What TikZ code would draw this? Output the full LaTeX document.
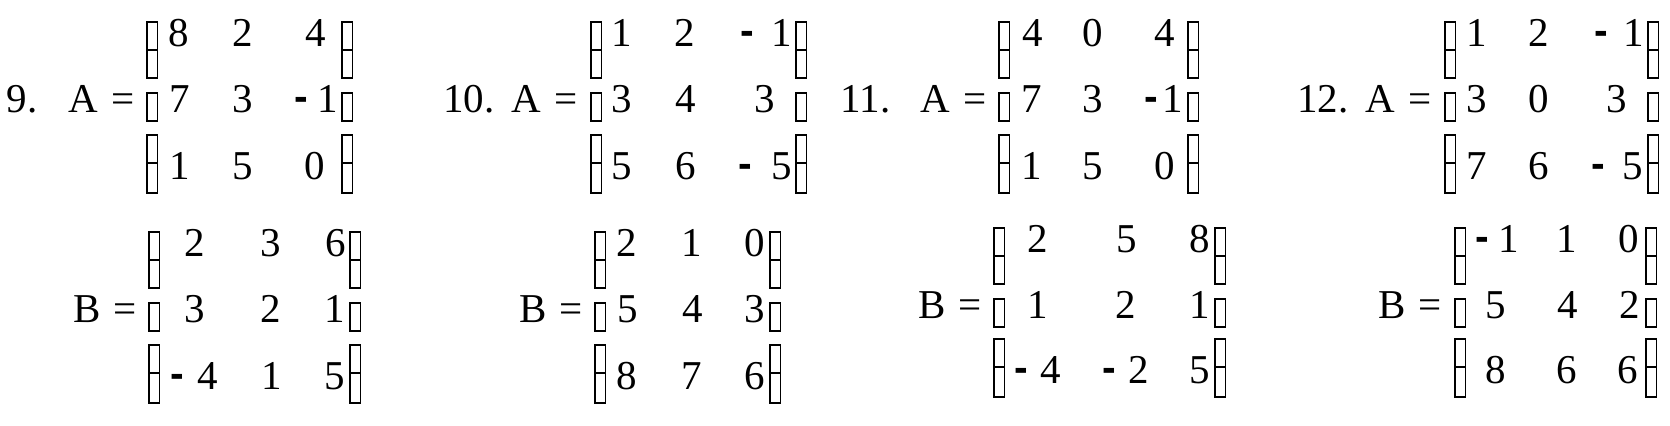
\documentclass[tikz,border=0pt]{standalone}
\usepackage{fontspec}
\setmainfont{Liberation Serif}
\setsansfont{Liberation Sans}
\newcommand{\mn}[1]{\llap{\raisebox{1.3pt}{\sffamily\bfseries -}\hspace{#1}}} % minus before an entry
\newcommand{\brk}[4]{ % bracket column: x, then the three row baselines
  \draw[gbox] (#1,#2-25) rectangle (#1+10.5,#2+3) rectangle (#1,#2+31);
  \draw[gbox] (#1,#3-20) rectangle (#1+10.5,#3+8);
  \draw[gbox] (#1,#4-45) rectangle (#1+10.5,#4-17) rectangle (#1,#4+13);
}
\tikzset{
    ent/.style={ % matrix entry, placed at its baseline
        anchor=base,
        inner sep=0pt,
        font=\fontsize{20.5pt}{24pt}\selectfont
        },
    numl/.style={ % exercise number
        ent,
        anchor=base east
        },
    eql/.style={ % "A =" and "B ="
        numl
        },
    gbox/.style={
        draw=black,
        line width=0.65pt
        }
}
\begin{document}
\begin{tikzpicture}[x=0.5pt,y=-0.5pt]
		\useasboundingbox (0,0) rectangle (1670,426);

		%%%%% exercise 9
		\node[numl] (n9) at (37.8,113) {9.};
		\node[eql] (a9) at (135.5,113) {A\hspace{7pt}=};
		\node[eql] (b9) at (137.5,323) {B\hspace{6.5pt}=};
		\brk{147}{47}{113}{180}
		\brk{342}{47}{113}{180}
		\brk{149}{257}{323}{390}
		\brk{350}{257}{323}{390}
		\foreach \x/\t [count=\c] in {179/8,243/2,316/4}
			\node[ent] (a9-1\c) at (\x,47) {\t};
		\foreach \x/\t [count=\c] in {179.5/7,243/3,327.5/{\mn{4.6pt}1}}
			\node[ent] (a9-2\c) at (\x,113) {\t};
		\foreach \x/\t [count=\c] in {180/1,243/5,315/0}
			\node[ent] (a9-3\c) at (\x,180) {\t};
		\foreach \x/\t [count=\c] in {194.5/2,271/3,335.5/6}
			\node[ent] (b9-1\c) at (\x,257) {\t};
		\foreach \x/\t [count=\c] in {194.5/3,271/2,335/1}
			\node[ent] (b9-2\c) at (\x,323) {\t};
		\foreach \x/\t [count=\c] in {207.5/{\mn{6.6pt}4},271.5/1,335/5}
			\node[ent] (b9-3\c) at (\x,390) {\t};

		%%%%% exercise 10
		\node[numl] (n10) at (494.8,113) {10.};
		\node[eql] (a10) at (578.5,113) {A\hspace{7pt}=};
		\node[eql] (b10) at (583.5,323) {B\hspace{6.5pt}=};
		\brk{591}{47}{113}{180}
		\brk{796}{47}{113}{180}
		\brk{595}{257}{323}{390}
		\brk{770}{257}{323}{390}
		\foreach \x/\t [count=\c] in {622/1,685/2,781.5/{\mn{8.6pt}1}}
			\node[ent] (a10-1\c) at (\x,47) {\t};
		\foreach \x/\t [count=\c] in {622/3,685.5/4,765/3}
			\node[ent] (a10-2\c) at (\x,113) {\t};
		\foreach \x/\t [count=\c] in {622/5,686/6,781.5/{\mn{9.7pt}5}}
			\node[ent] (a10-3\c) at (\x,180) {\t};
		\foreach \x/\t [count=\c] in {627/2,691.5/1,755/0}
			\node[ent] (b10-1\c) at (\x,257) {\t};
		\foreach \x/\t [count=\c] in {628/5,692.5/4,755/3}
			\node[ent] (b10-2\c) at (\x,323) {\t};
		\foreach \x/\t [count=\c] in {627/8,692/7,755/6}
			\node[ent] (b10-3\c) at (\x,390) {\t};

		%%%%% exercise 11
		\node[numl] (n11) at (890.8,113) {11.};
		\node[eql] (a11) at (987.5,113) {A\hspace{7pt}=};
		\node[eql] (b11) at (982.5,319) {B\hspace{6.5pt}=};
		\brk{999}{47}{113}{180}
		\brk{1188}{47}{113}{180}
		\brk{994}{253}{319}{384}
		\brk{1215}{253}{319}{384}
		\foreach \x/\t [count=\c] in {1032.5/4,1093/0,1164.5/4}
			\node[ent] (a11-1\c) at (\x,47) {\t};
		\foreach \x/\t [count=\c] in {1032/7,1093/3,1173/{\mn{2.3pt}1}}
			\node[ent] (a11-2\c) at (\x,113) {\t};
		\foreach \x/\t [count=\c] in {1031.5/1,1093/5,1165/0}
			\node[ent] (a11-3\c) at (\x,180) {\t};
		\foreach \x/\t [count=\c] in {1037.5/2,1126.5/5,1200/8}
			\node[ent] (b11-1\c) at (\x,253) {\t};
		\foreach \x/\t [count=\c] in {1038/1,1126/2,1200/1}
			\node[ent] (b11-2\c) at (\x,319) {\t};
		\foreach \x/\t [count=\c] in {1051/{\mn{6.3pt}4},1138.5/{\mn{6.1pt}2},1200/5}
			\node[ent] (b11-3\c) at (\x,384) {\t};

		%%%%% exercise 12
		\node[numl] (n12) at (1348.8,113) {12.};
		\node[eql] (a12) at (1432.5,113) {A\hspace{7pt}=};
		\node[eql] (b12) at (1442.5,319) {B\hspace{6.5pt}=};
		\brk{1445}{47}{113}{180}
		\brk{1648}{47}{113}{180}
		\brk{1455}{253}{319}{384}
		\brk{1646}{253}{319}{384}
		\foreach \x/\t [count=\c] in {1477/1,1539/2,1633.5/{\mn{7.6pt}1}}
			\node[ent] (a12-1\c) at (\x,47) {\t};
		\foreach \x/\t [count=\c] in {1477/3,1539/0,1617/3}
			\node[ent] (a12-2\c) at (\x,113) {\t};
		\foreach \x/\t [count=\c] in {1477/7,1539/6,1632.5/{\mn{8.6pt}5}}
			\node[ent] (a12-3\c) at (\x,180) {\t};
		\foreach \x/\t [count=\c] in {1508.5/{\mn{4.6pt}1},1566.5/1,1629/0}
			\node[ent] (b12-1\c) at (\x,253) {\t};
		\foreach \x/\t [count=\c] in {1495.5/5,1567.5/4,1629.5/2}
			\node[ent] (b12-2\c) at (\x,319) {\t};
		\foreach \x/\t [count=\c] in {1495.5/8,1567/6,1628/6}
			\node[ent] (b12-3\c) at (\x,384) {\t};
\end{tikzpicture}
\end{document}
